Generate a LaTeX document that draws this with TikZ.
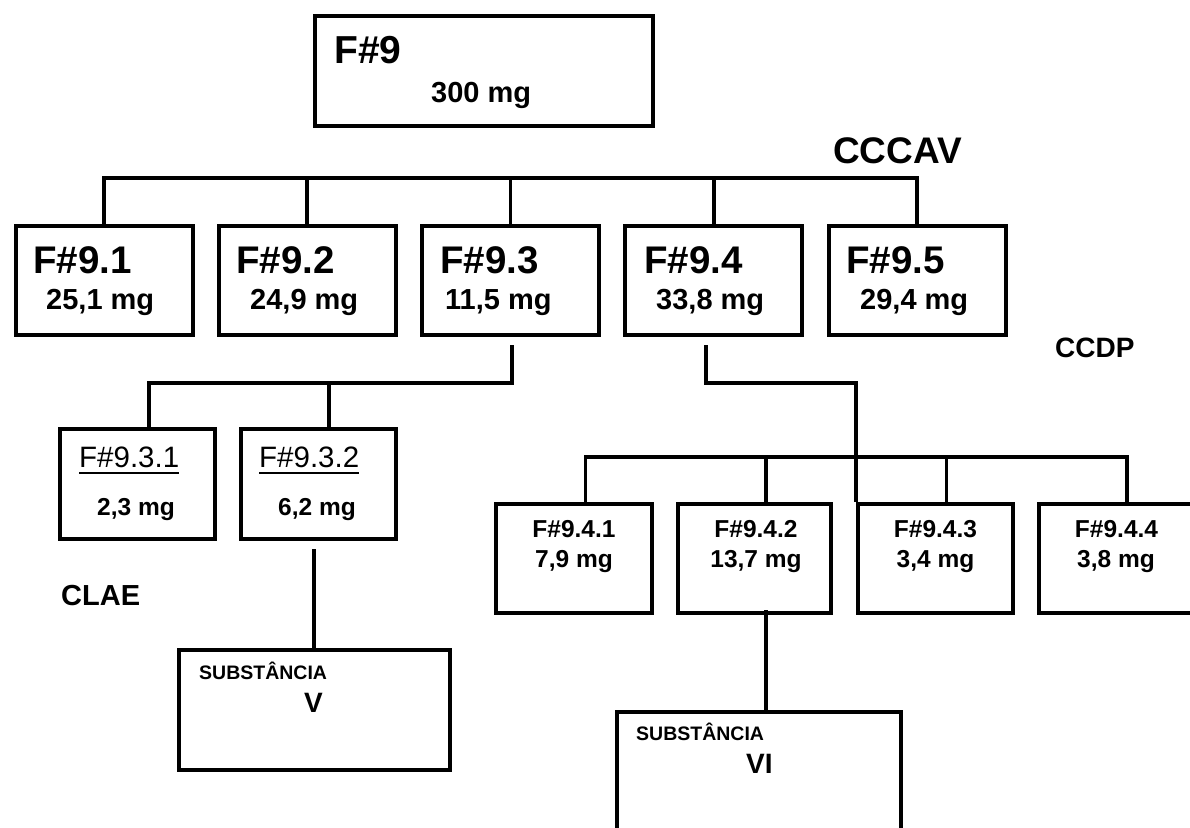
\documentclass[tikz,border=0pt]{standalone}
\usepackage{fontspec}
\setmainfont{Liberation Sans}
\usetikzlibrary{calc}
\tikzset{
  box/.style={draw, line width=4pt, inner sep=0pt},
  conn/.style={line width=3.8pt, line join=miter},
  lbl/.style={inner sep=0pt, anchor=base west},
  clbl/.style={inner sep=0pt, anchor=base},
  fbig/.style={font=\bfseries\fontsize{38.5}{40}\selectfont},
  fmg/.style={font=\bfseries\fontsize{29}{31}\selectfont},
  freg/.style={font=\fontsize{29.5}{31}\selectfont},
  fsmall/.style={font=\bfseries\fontsize{24.5}{26}\selectfont},
  fsub/.style={font=\bfseries\fontsize{19.5}{21}\selectfont},
}
\begin{document}
\begin{tikzpicture}[x=1pt,y=-1pt]
\useasboundingbox (0,0) rectangle (1190,827);
\fill[white] (0,0) rectangle (1190,827);
\clip (0,0) rectangle (1190,827);

% ---- boxes
\node[box, minimum width=338pt, minimum height=110pt] (f9) at (484,71) {};
\node[box, minimum width=177pt, minimum height=109pt] (f91) at (104,280.5) {};
\node[box, minimum width=177pt, minimum height=109pt] (f92) at (307.25,280.5) {};
\node[box, minimum width=177pt, minimum height=109pt] (f93) at (510.5,280.5) {};
\node[box, minimum width=177pt, minimum height=109pt] (f94) at (713.75,280.5) {};
\node[box, minimum width=177pt, minimum height=109pt] (f95) at (917,280.5) {};

\node[box, minimum width=155pt, minimum height=110pt] (f931) at (137.5,484) {};
\node[box, minimum width=155pt, minimum height=110pt] (f932) at (318.5,484) {};
\node[box, minimum width=271pt, minimum height=120pt] (sv) at (314.5,710) {};

\node[box, minimum width=156pt, minimum height=109pt] (f941) at (574,558.5) {};
\node[box, minimum width=153pt, minimum height=109pt] (f942) at (754.5,558.5) {};
\node[box, minimum width=155pt, minimum height=109pt] (f943) at (935.5,558.5) {};
\node[box, minimum width=154pt, minimum height=109pt] (f944) at (1116,558.5) {};
\node[box, minimum width=284pt, minimum height=138pt] (svi) at (759,781) {};

% ---- connectors
\coordinate (busA) at (0,178);
\coordinate (busB) at (0,383);
\coordinate (busC) at (0,457);

\draw[conn] (f91.north) -- (f91.north |- busA) -- (f95.north |- busA) -- (f95.north);
\foreach \n in {2,3,4} \draw[conn] (f9\n.north) -- (f9\n.north |- busA);

\coordinate (d93) at ($(f93.south)+(1.5,8)$);
\coordinate (c931) at ($(f931.north)+(11.5,0)$);
\coordinate (c932) at ($(f932.north)+(10.5,0)$);
\draw[conn] (d93) -- (d93 |- busB) -- (c931 |- busB) -- (c931);
\draw[conn] (c932 |- busB) -- (c932);

\coordinate (d932) at ($(f932.south)+(-4.5,8)$);
\draw[conn] (d932) -- (d932 |- sv.north);

\coordinate (d94) at ($(f94.south)+(-7.75,8)$);
\draw[conn] (d94) -- (d94 |- busB) -- (f943.north west |- busB) -- (f943.north west);

\coordinate (c941) at ($(f941.north)+(11.5,0)$);
\coordinate (c942) at ($(f942.north)+(11.5,0)$);
\coordinate (c943) at ($(f943.north)+(11,0)$);
\coordinate (c944) at ($(f944.north)+(11,0)$);
\draw[conn] (c941) -- (c941 |- busC) -- (c944 |- busC) -- (c944);
\draw[conn] (c942) -- (c942 |- busC);
\draw[conn] (c943) -- (c943 |- busC);

\coordinate (d942) at ($(f942.south)+(11.5,-5)$);
\draw[conn] (d942) -- (d942 |- svi.north);

% ---- texts
\node[lbl, font=\bfseries\fontsize{39}{41}\selectfont] (t9) at (334,63) {F\#9};
\node[lbl, fmg] (t9m) at (431,102) {300 mg};

\node[lbl, fbig] (t91) at (33,273) {F\#9.1};
\node[lbl, fmg] (m91) at (46,309) {25,1 mg};
\node[lbl, fbig] (t92) at (236,273) {F\#9.2};
\node[lbl, fmg] (m92) at (250,309) {24,9 mg};
\node[lbl, fbig] (t93) at (440,273) {F\#9.3};
\node[lbl, fmg] (m93) at (445,309) {11,5 mg};
\node[lbl, fbig] (t94) at (644,273) {F\#9.4};
\node[lbl, fmg] (m94) at (656,309) {33,8 mg};
\node[lbl, fbig] (t95) at (846,273) {F\#9.5};
\node[lbl, fmg] (m95) at (860,309) {29,4 mg};

\node[lbl, font=\bfseries\fontsize{37}{39}\selectfont] (cccav) at (833,163) {CCCAV};
\node[lbl, font=\bfseries\fontsize{28}{30}\selectfont] (ccdp) at (1055,357) {CCDP};
\node[lbl, font=\bfseries\fontsize{29}{31}\selectfont] (clae) at (61,605) {CLAE};

\node[lbl, freg] (t931) at (79,467) {F\#9.3.1};
\draw[line width=2.2pt] ($(t931.base west)+(0,6)$) -- ($(t931.base east)+(0,6)$);
\node[lbl, freg] (t932) at (259,467) {F\#9.3.2};
\draw[line width=2.2pt] ($(t932.base west)+(0,6)$) -- ($(t932.base east)+(0,6)$);
\node[lbl, fsmall] (m931) at (97,515) {2,3 mg};
\node[lbl, fsmall] (m932) at (278,515) {6,2 mg};

\node[lbl, fsub] (s5) at (199,679) {SUBSTÂNCIA};
\node[lbl, font=\bfseries\fontsize{28}{30}\selectfont] (v5) at (304,712) {V};
\node[lbl, fsub] (s6) at (636,740) {SUBSTÂNCIA};
\node[lbl, font=\bfseries\fontsize{28}{30}\selectfont] (v6) at (746,773) {VI};

\node[clbl, fsmall] (t941) at (574,537) {F\#9.4.1};
\node[clbl, fsmall] (m941) at (574,567) {7,9 mg};
\node[clbl, fsmall] (t942) at (756,537) {F\#9.4.2};
\node[clbl, fsmall] (m942) at (756,567) {13,7 mg};
\node[clbl, fsmall] (t943) at (935.5,537) {F\#9.4.3};
\node[clbl, fsmall] (m943) at (935.5,567) {3,4 mg};
\node[clbl, fsmall] (t944) at (1116.5,537) {F\#9.4.4};
\node[clbl, fsmall] (m944) at (1116,567) {3,8 mg};
\end{tikzpicture}
\end{document}
